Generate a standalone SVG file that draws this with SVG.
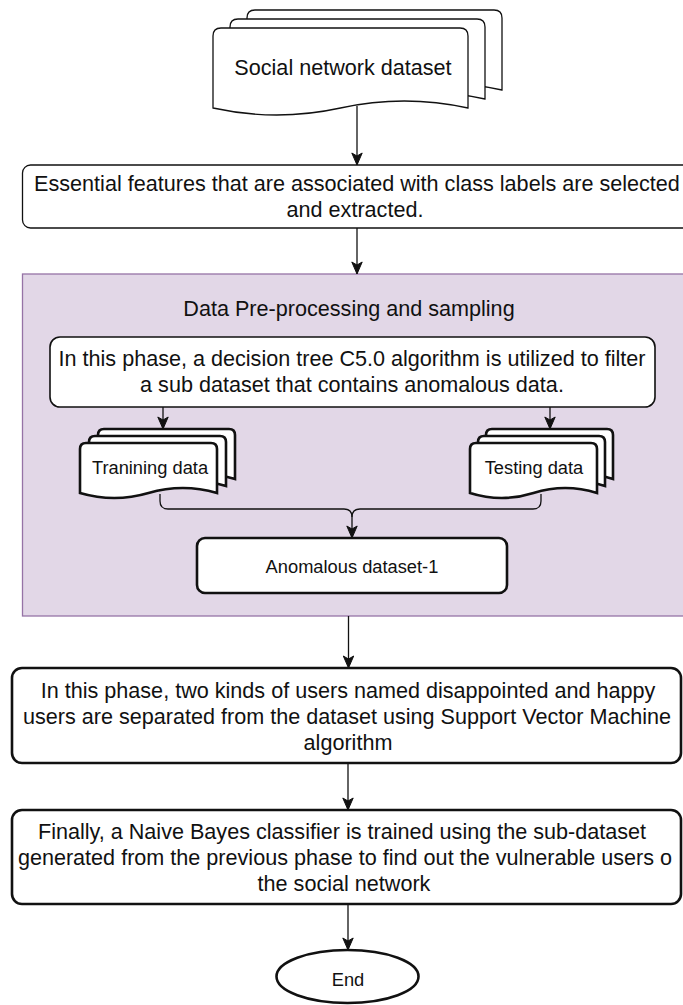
<svg xmlns="http://www.w3.org/2000/svg" width="683" height="1005" viewBox="0 0 683 1005">
<style>
text{font-family:"Liberation Sans",Arial,Helvetica,sans-serif;fill:#111;text-anchor:middle}
.t{font-size:21.6px}
.s{font-size:18.3px}
.thin{fill:#fff;stroke:#111;stroke-width:1.3}
.thick{fill:#fff;stroke:#111;stroke-width:2.6}
.con{fill:none;stroke:#111;stroke-width:1.3}
</style>
<defs>
<marker id="arr" markerUnits="userSpaceOnUse" markerWidth="14" markerHeight="14" viewBox="0 0 14 14" refX="13" refY="7" orient="auto">
<path d="M1,1.8 L13,7 L1,12.2 L4,7 Z" fill="#111" stroke="#111" stroke-width="1"/>
</marker>
</defs>
<g id="social-network-dataset">
<path class="thin" d="M247,18 Q247,10 255,10 L494,10 Q502,10 502,18 L502,90 Q438.25,76 374.5,90 Q310.75,104 247,90 Z"/>
<path class="thin" d="M230,27 Q230,19 238,19 L477,19 Q485,19 485,27 L485,99 Q421.25,85 357.5,99 Q293.75,113 230,99 Z"/>
<path class="thin" d="M213,36 Q213,28 221,28 L460,28 Q468,28 468,36 L468,108 Q404.25,94 340.5,108 Q276.75,122 213,108 Z"/>
<text class="t" x="343" y="74.5">Social network dataset</text>
</g>
<g id="feature-selection">
<rect class="thin" x="22.5" y="165" width="670" height="63" rx="8"/>
<text class="t" x="357" y="191">Essential features that are associated with class labels are selected</text>
<text class="t" x="355" y="217">and extracted.</text>
</g>
<g id="preprocessing-group">
<rect x="22.5" y="274" width="700" height="342" fill="#e2d7e7" stroke="#9673a6" stroke-width="1.3"/>
<text class="t" x="349" y="315.5">Data Pre-processing and sampling</text>
</g>
<g id="c50-filter">
<rect x="50" y="337" width="605" height="70" rx="10" fill="#fff" stroke="#111" stroke-width="1.6"/>
<text class="t" x="352" y="365.5">In this phase, a decision tree C5.0 algorithm is utilized to filter</text>
<text class="t" x="352" y="391.5">a sub dataset that contains anomalous data.</text>
</g>
<g id="training-data">
<path class="thick" d="M98,435 Q98,429 104,429 L229,429 Q235,429 235,435 L235,479 Q200.75,469 166.5,479 Q132.25,489 98,479 Z"/>
<path class="thick" d="M89,442 Q89,436 95,436 L220,436 Q226,436 226,442 L226,486 Q191.75,476 157.5,486 Q123.25,496 89,486 Z"/>
<path class="thick" d="M80,449 Q80,443 86,443 L211,443 Q217,443 217,449 L217,493 Q182.75,483 148.5,493 Q114.25,503 80,493 Z"/>
<text class="s" x="150" y="473.5">Tranining data</text>
</g>
<g id="testing-data">
<path class="thick" d="M486,435 Q486,429 492,429 L607,429 Q613,429 613,435 L613,479 Q581.25,469 549.5,479 Q517.75,489 486,479 Z"/>
<path class="thick" d="M478,442 Q478,436 484,436 L599,436 Q605,436 605,442 L605,486 Q573.25,476 541.5,486 Q509.75,496 478,486 Z"/>
<path class="thick" d="M470,449 Q470,443 476,443 L591,443 Q597,443 597,449 L597,493 Q565.25,483 533.5,493 Q501.75,503 470,493 Z"/>
<text class="s" x="534" y="473.5">Testing data</text>
</g>
<g id="anomalous-dataset">
<rect class="thick" x="197" y="538" width="310" height="55" rx="8"/>
<text class="s" x="352" y="572.5">Anomalous dataset-1</text>
</g>
<g id="svm-phase">
<rect class="thick" x="12" y="668" width="669" height="95" rx="10"/>
<text class="t" x="348" y="698">In this phase, two kinds of users named disappointed and happy</text>
<text class="t" x="347" y="724">users are separated from the dataset using Support Vector Machine</text>
<text class="t" x="348" y="750">algorithm</text>
</g>
<g id="naive-bayes-phase">
<rect class="thick" x="12" y="810" width="669" height="94" rx="10"/>
<text class="t" x="342" y="839">Finally, a Naive Bayes classifier is trained using the sub-dataset</text>
<text class="t" x="345" y="865">generated from the previous phase to find out the vulnerable users o</text>
<text class="t" x="344" y="891">the social network</text>
</g>
<g id="end">
<ellipse class="thick" cx="347.5" cy="976.5" rx="71" ry="26.5"/>
<text class="s" x="348" y="986">End</text>
</g>
<g id="connectors">
<path class="con" d="M357,106 L357,165" marker-end="url(#arr)"/>
<path class="con" d="M357,228 L357,274" marker-end="url(#arr)"/>
<path class="con" d="M163,407 L163,429" marker-end="url(#arr)"/>
<path class="con" d="M550,407 L550,429" marker-end="url(#arr)"/>
<path class="con" d="M160,494 L160,501 Q160,509 168,509 L344,509 Q352,509 352,517 L352,538" marker-end="url(#arr)"/>
<path class="con" d="M541,494 L541,501 Q541,509 533,509 L360,509 Q352,509 352,517"/>
<path class="con" d="M348.5,616 L348.5,668" marker-end="url(#arr)"/>
<path class="con" d="M348,763 L348,810" marker-end="url(#arr)"/>
<path class="con" d="M348,904 L348,950" marker-end="url(#arr)"/>
</g>
</svg>
